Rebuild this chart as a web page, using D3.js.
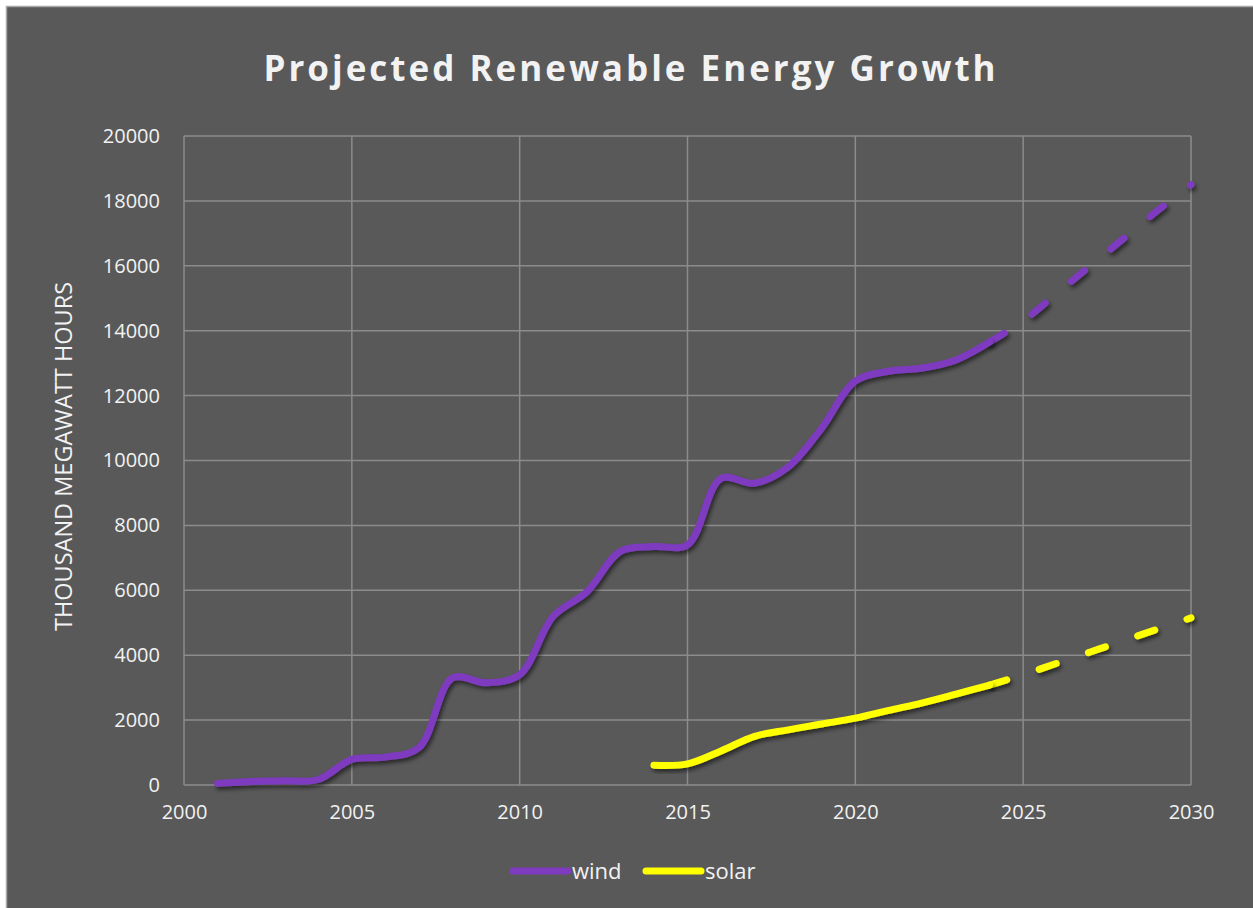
<!DOCTYPE html>
<html>
<head>
<meta charset="utf-8">
<title>Projected Renewable Energy Growth</title>
<script src="https://cdn.jsdelivr.net/npm/d3@7"></script>
<style>
    html, body { margin: 0; padding: 0; background: #ffffff; }
    #chart-container { width: 1253px; height: 908px; }
</style>
</head>
<body>
<div id="chart-container"></div>
<script>
// Values (thousand megawatt hours)
const windYears = [2001, 2002, 2003, 2004, 2005, 2006, 2007, 2008, 2009, 2010, 2011, 2012,
                   2013, 2014, 2015, 2016, 2017, 2018, 2019, 2020, 2021, 2022, 2023, 2024];
const windValues = [50, 110, 130, 170, 790, 860, 1150, 3300, 3150, 3400, 5200, 5950,
                    7200, 7350, 7400, 9450, 9300, 9800, 11000, 12450, 12750, 12850, 13100, 13650];

const windProjYears = [2024, 2025, 2026, 2027, 2028, 2029, 2030];
const windProjValues = [13650, 14300, 15150, 16000, 16850, 17700, 18500];

const solarYears = [2014, 2015, 2016, 2017, 2018, 2019, 2020, 2021, 2022, 2023, 2024];
const solarValues = [610, 650, 1050, 1500, 1700, 1880, 2060, 2300, 2530, 2800, 3080];

const solarProjYears = [2024, 2025, 2026, 2027, 2028, 2029, 2030];
const solarProjValues = [3080, 3400, 3750, 4100, 4450, 4800, 5150];

const xTicks = [2000, 2005, 2010, 2015, 2020, 2025, 2030];
const yTicks = [0, 2000, 4000, 6000, 8000, 10000, 12000, 14000, 16000, 18000, 20000];

const windColor = "#7E3BBF";
const solarColor = "#FFFF00";

function drawChart() {
    const width = 1253, height = 908;
    const margin = { top: 136, right: 62, bottom: 123, left: 184 }; // plot area 184..1191 x 136..785
    const innerWidth = width - margin.left - margin.right;
    const innerHeight = height - margin.top - margin.bottom;

    const svg = d3.select("#chart-container").append("svg")
        .attr("width", width)
        .attr("height", height);

    // Drop shadow for the data lines
    svg.append("defs").append("filter")
        .attr("id", "shadow")
        .attr("x", "-10%").attr("y", "-10%")
        .attr("width", "120%").attr("height", "120%")
        .append("feDropShadow")
        .attr("dx", 2).attr("dy", 3)
        .attr("stdDeviation", 2)
        .attr("flood-color", "#000")
        .attr("flood-opacity", 0.55);

    // Chart background with thin light frame
    svg.append("rect")
        .attr("x", 6.5).attr("y", 6.5)
        .attr("width", width + 10).attr("height", height + 10)
        .attr("fill", "#595959")
        .attr("stroke", "#A6A6A6")
        .attr("stroke-width", 1.5);

    // Title
    svg.append("text")
        .attr("x", 631)
        .attr("y", 81)
        .attr("text-anchor", "middle")
        .style("font-family", "'Open Sans', sans-serif")
        .style("font-weight", "bold")
        .style("font-size", "35px")
        .style("letter-spacing", "3px")
        .style("fill", "#F2F2F2")
        .text("Projected Renewable Energy Growth");

    const g = svg.append("g")
        .attr("transform", `translate(${margin.left},${margin.top})`);

    const xScale = d3.scaleLinear().domain([2000, 2030]).range([0, innerWidth]);
    const yScale = d3.scaleLinear().domain([0, 20000]).range([innerHeight, 0]);

    // Gridlines
    g.append("g")
        .selectAll("line")
        .data(yTicks)
        .enter().append("line")
        .attr("x1", 0).attr("x2", innerWidth)
        .attr("y1", d => yScale(d)).attr("y2", d => yScale(d))
        .attr("stroke", "#8C8C8C")
        .attr("stroke-width", 1.5);

    g.append("g")
        .selectAll("line")
        .data(xTicks)
        .enter().append("line")
        .attr("x1", d => xScale(d)).attr("x2", d => xScale(d))
        .attr("y1", 0).attr("y2", innerHeight)
        .attr("stroke", "#8C8C8C")
        .attr("stroke-width", 1.5);

    // Y axis (labels only)
    const yAxis = g.append("g")
        .call(d3.axisLeft(yScale).tickValues(yTicks).tickSize(0).tickPadding(24).tickFormat(d3.format("d")));
    yAxis.select(".domain").remove();
    yAxis.selectAll("text")
        .style("font-family", "'Open Sans', sans-serif")
        .style("font-size", "20px")
        .style("fill", "#F2F2F2");

    // X axis (labels only)
    const xAxis = g.append("g")
        .attr("transform", `translate(0,${innerHeight})`)
        .call(d3.axisBottom(xScale).tickValues(xTicks).tickSize(0).tickPadding(20).tickFormat(d3.format("d")));
    xAxis.select(".domain").remove();
    xAxis.selectAll("text")
        .style("font-family", "'Open Sans', sans-serif")
        .style("font-size", "20px")
        .style("fill", "#F2F2F2");

    // Y axis title
    svg.append("text")
        .attr("transform", `translate(72,${margin.top + innerHeight / 2 - 4}) rotate(-90)`)
        .attr("text-anchor", "middle")
        .style("font-family", "'Open Sans', sans-serif")
        .style("font-size", "23.5px")
        .style("fill", "#F2F2F2")
        .text("THOUSAND MEGAWATT HOURS");

    // Lines
    const line = d3.line()
        .x(d => xScale(d[0]))
        .y(d => yScale(d[1]))
        .curve(d3.curveCatmullRom.alpha(0.5));

    const series = [
        { years: windProjYears, values: windProjValues, color: windColor, dash: "17,34" },
        { years: solarProjYears, values: solarProjValues, color: solarColor, dash: "18,34" },
        { years: windYears, values: windValues, color: windColor, dash: null },
        { years: solarYears, values: solarValues, color: solarColor, dash: null }
    ];

    g.selectAll(".series-line")
        .data(series)
        .enter().append("path")
        .attr("class", "series-line")
        .attr("d", s => line(s.years.map((y, i) => [y, s.values[i]])))
        .attr("fill", "none")
        .attr("stroke", s => s.color)
        .attr("stroke-width", 7)
        .attr("stroke-linecap", "round")
        .attr("stroke-linejoin", "round")
        .attr("stroke-dasharray", s => s.dash)
        .attr("filter", "url(#shadow)");

    // Legend
    const legendData = [
        { label: "wind", color: windColor, x: 513 },
        { label: "solar", color: solarColor, x: 646 }
    ];

    const legend = svg.append("g")
        .selectAll("g")
        .data(legendData)
        .enter().append("g")
        .attr("transform", d => `translate(${d.x}, 871)`);

    legend.append("line")
        .attr("x1", 0).attr("x2", 55)
        .attr("y1", 0).attr("y2", 0)
        .attr("stroke", d => d.color)
        .attr("stroke-width", 7)
        .attr("stroke-linecap", "round");

    legend.append("text")
        .attr("x", 59)
        .attr("y", 0)
        .attr("dy", "0.35em")
        .style("font-family", "'Open Sans', sans-serif")
        .style("font-size", "22px")
        .style("fill", "#F2F2F2")
        .text(d => d.label);
}

document.addEventListener("DOMContentLoaded", drawChart);
</script>
</body>
</html>
